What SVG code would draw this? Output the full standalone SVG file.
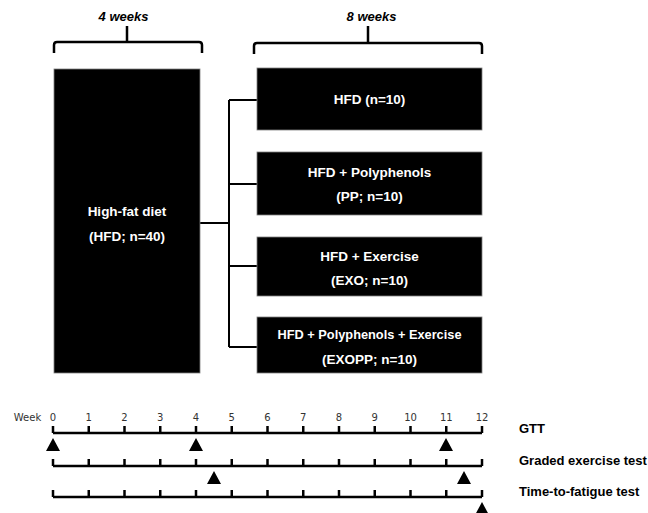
<svg xmlns="http://www.w3.org/2000/svg" width="648" height="513" viewBox="0 0 648 513">
<style>
.box{fill:#000;stroke:#7f7f7f;stroke-width:0.8}
.bt{font-family:"Liberation Sans",Arial,sans-serif;font-weight:bold;font-size:13.5px;fill:#fff;text-anchor:middle}
.br{fill:none;stroke:#000;stroke-width:2.5;stroke-linejoin:round}
.bl{font-family:"Liberation Sans",Arial,sans-serif;font-weight:bold;font-style:italic;font-size:13px;fill:#000;text-anchor:middle}
.con{fill:none;stroke:#000;stroke-width:2}
.tl{fill:none;stroke:#000;stroke-width:2.5}
.num{font-family:"DejaVu Sans",Verdana,sans-serif;font-size:10px;fill:#333;text-anchor:middle}
.lab{font-family:"Liberation Sans",Arial,sans-serif;font-weight:bold;font-size:13px;fill:#000}
.tri{fill:#000}
</style>
<g id="brackets">
<path class="br" d="M54,53 V45 Q54,42 57,42 H199 Q202,42 202,45 V53 M127,26 V42"/>
<text class="bl" x="123.5" y="21">4 weeks</text>
<path class="br" d="M254,54 V46 Q254,43 257,43 H479 Q482,43 482,46 V54 M368,26 V43"/>
<text class="bl" x="371.5" y="21">8 weeks</text>
</g>
<g id="connectors">
<path class="con" d="M200,223 H229 M229,100 V347 M229,100 H257 M229,184 H257 M229,266 H257 M229,347 H257"/>
</g>
<g id="hfd40">
<rect class="box" x="54" y="69" width="146" height="304"/>
<text class="bt" x="127" y="216">High-fat diet</text>
<text class="bt" x="127" y="241">(HFD; n=40)</text>
</g>
<g id="hfd10">
<rect class="box" x="257" y="68" width="225" height="62"/>
<text class="bt" x="369.5" y="104">HFD (n=10)</text>
</g>
<g id="pp">
<rect class="box" x="257" y="152" width="225" height="63"/>
<text class="bt" x="369.5" y="177">HFD + Polyphenols</text>
<text class="bt" x="369.5" y="201">(PP; n=10)</text>
</g>
<g id="exo">
<rect class="box" x="257" y="237" width="225" height="59"/>
<text class="bt" x="369.5" y="261">HFD + Exercise</text>
<text class="bt" x="369.5" y="285">(EXO; n=10)</text>
</g>
<g id="exopp">
<rect class="box" x="257" y="317" width="225" height="56"/>
<text class="bt" x="369.5" y="339" textLength="184" lengthAdjust="spacingAndGlyphs">HFD + Polyphenols + Exercise</text>
<text class="bt" x="369.5" y="364">(EXOPP; n=10)</text>
</g>
<g id="timeline">
<text class="num" x="27.5" y="421">Week</text>
<text class="num" x="53" y="421">0</text>
<text class="num" x="88.75" y="421">1</text>
<text class="num" x="124.5" y="421">2</text>
<text class="num" x="160.25" y="421">3</text>
<text class="num" x="196" y="421">4</text>
<text class="num" x="231.75" y="421">5</text>
<text class="num" x="267.5" y="421">6</text>
<text class="num" x="303.25" y="421">7</text>
<text class="num" x="339" y="421">8</text>
<text class="num" x="374.75" y="421">9</text>
<text class="num" x="410.5" y="421">10</text>
<text class="num" x="446.25" y="421">11</text>
<text class="num" x="482" y="421">12</text>
<path id="axis" class="tl" d="M53,433 H482 M53,426 V433 M88.75,426 V433 M124.5,426 V433 M160.25,426 V433 M196,426 V433 M231.75,426 V433 M267.5,426 V433 M303.25,426 V433 M339,426 V433 M374.75,426 V433 M410.5,426 V433 M446.25,426 V433 M482,426 V433"/>
<use href="#axis" y="33"/>
<use href="#axis" y="64"/>
<path class="tri" d="M46,451 L53,438 L60,451 Z M189,451 L196,438 L203,451 Z M439,451 L446,438 L453,451 Z"/>
<path class="tri" d="M207,484 L214,471 L221,484 Z M457,484 L464,471 L471,484 Z"/>
<path class="tri" d="M475,515 L482,502 L489,515 Z"/>
<text class="lab" x="519" y="433">GTT</text>
<text class="lab" x="519" y="465">Graded exercise test</text>
<text class="lab" x="519" y="496">Time-to-fatigue test</text>
</g>
</svg>
